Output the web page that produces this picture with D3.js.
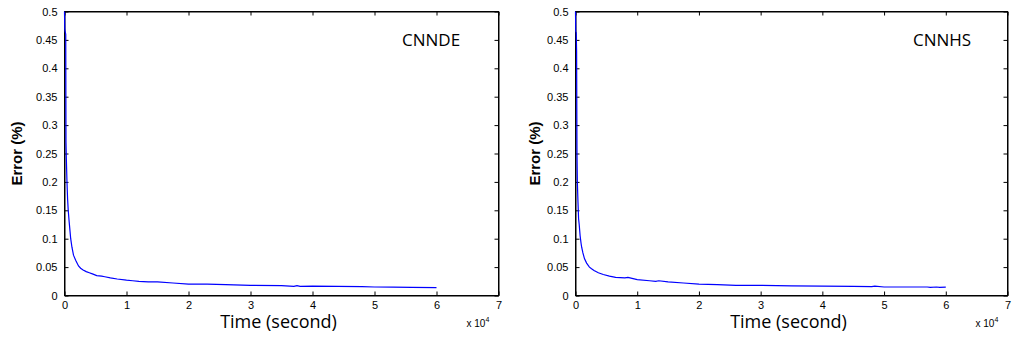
<!DOCTYPE html>
<html>
<head>
<meta charset="utf-8">
<script src="https://cdn.jsdelivr.net/npm/d3@7"></script>
<style>
  body { margin: 0; background: #fff; }
  .tick text { font-family: "Liberation Sans", Arial, sans-serif; font-size: 11px; fill: #000; }
  .domain, .tick line { stroke: #000; }
</style>
</head>
<body>
<script>
// time in units of 1e4 seconds, error values
let timeDE = [0, 0.004, 0.008, 0.02, 0.024, 0.03, 0.04, 0.05, 0.06, 0.075, 0.09, 0.1, 0.12, 0.145, 0.18, 0.226, 0.26, 0.3, 0.35, 0.4, 0.45, 0.52, 0.6, 0.65, 0.74, 0.85, 1.0, 1.1, 1.2, 1.35, 1.5, 1.75, 2.0, 2.3, 2.6, 3.0, 3.5, 3.7, 3.75, 3.8, 4.0, 4.4, 4.8, 5.0, 5.3, 5.6, 6.0];
let errDE = [0.5, 0.47, 0.466, 0.46, 0.27, 0.24, 0.2, 0.17, 0.15, 0.13, 0.112, 0.1, 0.085, 0.071, 0.062, 0.052, 0.048, 0.045, 0.042, 0.04, 0.038, 0.035, 0.034, 0.033, 0.031, 0.029, 0.027, 0.026, 0.025, 0.024, 0.024, 0.022, 0.020, 0.020, 0.019, 0.018, 0.0175, 0.016, 0.0175, 0.016, 0.0165, 0.016, 0.0155, 0.015, 0.0148, 0.0142, 0.0138];

let timeHS = [0, 0.004, 0.012, 0.018, 0.024, 0.03, 0.04, 0.05, 0.06, 0.075, 0.09, 0.1, 0.12, 0.145, 0.18, 0.226, 0.26, 0.3, 0.37, 0.45, 0.55, 0.65, 0.8, 0.85, 1.0, 1.2, 1.3, 1.35, 1.5, 1.75, 2.0, 2.3, 2.6, 3.0, 3.5, 4.0, 4.5, 4.8, 4.85, 5.0, 5.3, 5.7, 5.75, 5.85, 5.9, 6.0];
let errHS = [0.5, 0.465, 0.463, 0.43, 0.25, 0.2, 0.165, 0.135, 0.125, 0.105, 0.092, 0.085, 0.075, 0.065, 0.057, 0.05, 0.047, 0.044, 0.04, 0.037, 0.034, 0.032, 0.031, 0.032, 0.028, 0.026, 0.025, 0.026, 0.024, 0.022, 0.020, 0.019, 0.018, 0.018, 0.017, 0.0165, 0.016, 0.0155, 0.0165, 0.015, 0.015, 0.015, 0.0142, 0.015, 0.0142, 0.0147];

let xTicks = [0, 1, 2, 3, 4, 5, 6, 7];
let yTicks = [0, 0.05, 0.1, 0.15, 0.2, 0.25, 0.3, 0.35, 0.4, 0.45, 0.5];

let panels = [
  { name: "CNNDE", time: timeDE, err: errDE, left: 64.5, right: 498.5, labelX: 402, yLabelX: 17 },
  { name: "CNNHS", time: timeHS, err: errHS, left: 575.5, right: 1007.5, labelX: 913, yLabelX: 535 }
];

let plotTop = 11.5, plotBottom = 295.5;

let svg = d3.select("body").append("svg")
  .attr("width", 1028)
  .attr("height", 343);

panels.forEach(p => {
  let x = d3.scaleLinear().domain([0, 7]).range([p.left, p.right]);
  let y = d3.scaleLinear().domain([0, 0.5]).range([plotBottom, plotTop]);
  let g = svg.append("g");

  // box
  g.append("rect")
    .attr("x", p.left).attr("y", plotTop)
    .attr("width", p.right - p.left).attr("height", plotBottom - plotTop)
    .attr("fill", "none").attr("stroke", "#000");

  g.append("g")
    .attr("transform", "translate(0," + plotBottom + ")")
    .call(d3.axisBottom(x).tickValues(xTicks).tickSize(-4).tickSizeOuter(0).tickPadding(6).tickFormat(d3.format("d")));
  g.append("g")
    .attr("transform", "translate(0," + plotTop + ")")
    .call(d3.axisTop(x).tickValues(xTicks).tickSize(-4).tickSizeOuter(0).tickFormat(""));
  g.append("g")
    .attr("transform", "translate(" + p.left + ",0)")
    .call(d3.axisLeft(y).tickValues(yTicks).tickSize(-4).tickSizeOuter(0).tickPadding(7).tickFormat(d => d === 0 ? "0" : String(+d.toFixed(2))));
  g.append("g")
    .attr("transform", "translate(" + p.right + ",0)")
    .call(d3.axisRight(y).tickValues(yTicks).tickSize(-4).tickSizeOuter(0).tickFormat(""));

  let line = d3.line()
    .x((d, i) => x(p.time[i]))
    .y(d => y(d));

  g.append("path")
    .datum(p.err)
    .attr("d", line)
    .attr("fill", "none")
    .attr("stroke", "#0000ff")
    .attr("stroke-width", 1.2);

  g.append("text")
    .attr("x", p.labelX).attr("y", 46)
    .style("font-family", "'Open Sans', sans-serif")
    .style("font-size", "17px")
    .text(p.name);

  g.append("text")
    .attr("x", (p.left + p.right) / 2 - 3).attr("y", 328)
    .attr("text-anchor", "middle")
    .style("font-family", "'Open Sans', sans-serif")
    .style("font-size", "18px")
    .text("Time (second)");

  g.append("text")
    .attr("transform", "translate(" + (p.yLabelX + 5) + "," + ((plotTop + plotBottom) / 2) + ") rotate(-90)")
    .attr("text-anchor", "middle")
    .style("font-family", "'Liberation Sans', Arial, sans-serif")
    .style("font-size", "15px")
    .style("font-weight", "bold")
    .text("Error (%)");

  let ex = g.append("text")
    .attr("x", p.right - 32).attr("y", 327)
    .style("font-family", "'Liberation Sans', Arial, sans-serif")
    .style("font-size", "10px");
  ex.append("tspan").text("x 10");
  ex.append("tspan").attr("dy", -5).style("font-size", "7px").text("4");
});
</script>
</body>
</html>
